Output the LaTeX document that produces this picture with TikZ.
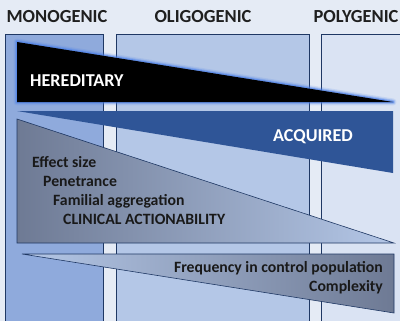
\documentclass[tikz,border=0pt]{standalone}
\usepackage{fontspec}
\setmainfont{Carlito}
\usetikzlibrary{positioning}
\definecolor{bgblue}{HTML}{E5EBF5}
\definecolor{monoblue}{HTML}{8FAADC}
\definecolor{oligoblue}{HTML}{B4C7E7}
\definecolor{polyblue}{HTML}{DAE3F3}
\definecolor{navy}{HTML}{1F3864}
\definecolor{acqblue}{HTML}{2F5597}
\definecolor{slate}{HTML}{6E7A94}
\definecolor{glow}{HTML}{4A7FEA}
\tikzset{%
	column/.style  = {draw=navy, line width=0.9pt}, % column frame
	header/.style  = {font=\bfseries\fontsize{18.5}{22}\selectfont, text=black!88},
	banner/.style  = {font=\bfseries\fontsize{18.2}{22}\selectfont, text=white, inner sep=0pt},
	factor/.style  = {font=\bfseries\fontsize{15.8}{18}\selectfont, text=black!90, inner sep=0pt},
	wedge/.style   = {draw=navy, line width=0.6pt}, % triangle outline
}

\begin{document}
\begin{tikzpicture}[x=1bp,y=-1bp]
	\clip (0,0) rectangle (400,321);
	\fill[bgblue] (0,0) rectangle (400,321);
	% columns
	\draw[column,fill=monoblue] (5,34) rectangle (103,330);
	\draw[column,fill=oligoblue] (116,34) rectangle (309,330);
	\draw[column,fill=polyblue] (321,34) rectangle (410,330);
	\node[header] (mono) at (57,17) {MONOGENIC};
	\node[header] (oligo) at (203,17) {OLIGOGENIC};
	\node[header] (poly) at (356,17) {POLYGENIC};

	% hereditary wedge with glow
	\foreach \w/\o in {7/0.15,4.5/0.3,2.5/0.6}
		\draw[glow, line width=\w pt, opacity=\o, line join=round] (17,42) -- (393,102) -- (17,102) -- cycle;
	\fill[black] (17,42) -- (393,102) -- (17,102) -- cycle;
	\node[banner, anchor=base west] (hered) at (30,86) {HEREDITARY};

	% acquired wedge
	\fill[acqblue] (17,111) -- (393,111) -- (393,173) -- cycle;
	\node[banner] (acq) at (313,137) {ACQUIRED};

	% decreasing factors
	\path[wedge, left color=slate, right color=oligoblue] (17,119) -- (394,243) -- (17,243) -- cycle;
	\node[factor, anchor=base west] (eff) at (32,167) {Effect size};
	\node[factor, anchor=base west] (pen) at (43,186) {Penetrance};
	\node[factor, anchor=base west] (fam) at (53,205) {Familial aggregation};
	\node[factor, anchor=base west] (clin) at (63,224) {CLINICAL ACTIONABILITY};

	% increasing factors
	\path[wedge, left color=oligoblue, right color=slate] (22,254) -- (394,254) -- (394,313) -- cycle;
	\node[factor, anchor=base east] (freq) at (383,272) {Frequency in control population};
	\node[factor, anchor=base east] (cplx) at (383,291) {Complexity};
\end{tikzpicture}
\end{document}
